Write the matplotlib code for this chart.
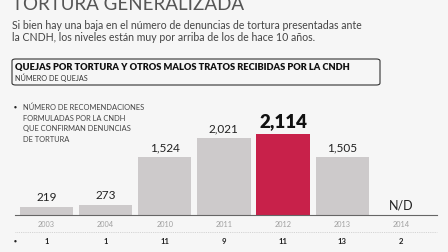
import matplotlib.pyplot as plt
import matplotlib.transforms as mtransforms
from matplotlib.patches import FancyBboxPatch
from matplotlib.lines import Line2D

# data
years = ['2003', '2004', '2010', '2011', '2012', '2013', '2014']
quejas = [219, 273, 1524, 2021, 2114, 1505, None]
recomendaciones = ['1', '1', '11', '9', '11', '13', '2']
highlight = '2012'

W, H = 448, 252
BG = '#f6f6f6'
GRAY = '#cdcacb'
RED = '#c8214a'

plt.rcParams['font.family'] = ['Lato', 'DejaVu Sans']

fig = plt.figure(figsize=(W / 100, H / 100), dpi=100, facecolor=BG)


def fx(x):
    return x / W


def fy(y):
    return 1 - y / H


# header texts
fig.text(fx(12), fy(10), 'TORTURA GENERALIZADA', fontsize=13.5, color='#555555',
         va='baseline', ha='left')
fig.text(fx(12), fy(29), 'Si bien hay una baja en el número de denuncias de tortura presentadas ante',
         fontsize=7.6, color='#444444', va='baseline')
fig.text(fx(12), fy(41), 'la CNDH, los niveles están muy por arriba de los de hace 10 años.',
         fontsize=7.6, color='#444444', va='baseline')

box = FancyBboxPatch((fx(12), fy(85)), fx(368), (85 - 59) / H,
                     boxstyle='round,pad=0,rounding_size=0.008',
                     transform=fig.transFigure, facecolor='none',
                     edgecolor='#333333', linewidth=0.8)
fig.add_artist(box)
fig.text(fx(15), fy(70), 'QUEJAS POR TORTURA Y OTROS MALOS TRATOS RECIBIDAS POR LA CNDH',
         fontsize=6.7, fontweight='heavy', color='#111111', va='baseline')
fig.text(fx(15), fy(81), 'NÚMERO DE QUEJAS', fontsize=5.2, color='#333333', va='baseline')

# legend note
fig.text(fx(14), fy(107.5), '●', fontsize=3.5, color='#222222', va='center')
legend_lines = ['NÚMERO DE RECOMENDACIONES', 'FORMULADAS POR LA CNDH',
                'QUE CONFIRMAN DENUNCIAS', 'DE TORTURA']
for i, line in enumerate(legend_lines):
    fig.text(fx(23), fy(110 + i * 10.6), line, fontsize=5.4, color='#444444', va='baseline')

# bars
ax = fig.add_axes([fx(15), fy(215), fx(437) - fx(15), (215 - 100) / H])
ax.set_facecolor('none')
xs = list(range(len(years)))
vals = [v if v is not None else 0 for v in quejas]
colors = [RED if y == highlight else GRAY for y in years]
ax.bar(xs, vals, width=0.9, color=colors, zorder=2)
ax.set_xlim(-0.53, 6.6)
ax.set_ylim(0, 3000)

for x, v in zip(xs, quejas):
    if v is None:
        ax.text(x, 80, 'N/D', ha='center', va='bottom', fontsize=9, color='#222222')
    elif years[x] == highlight:
        ax.text(x, v + 90, f'{v:,}', ha='center', va='bottom', fontsize=13.5,
                fontweight='heavy', color='#111111')
    else:
        ax.text(x, v + 90, f'{v:,}', ha='center', va='bottom', fontsize=8.5, color='#222222')

for s in ['top', 'right', 'left']:
    ax.spines[s].set_visible(False)
ax.spines['bottom'].set_color('#666666')
ax.spines['bottom'].set_linewidth(0.8)
ax.set_yticks([])
ax.set_xticks(xs)
ax.set_xticklabels(years, fontsize=5.3, color='#a0a0a0')
ax.tick_params(axis='x', length=0, pad=4)

# dotted separator and recomendaciones row
fig.add_artist(Line2D([fx(15), fx(437)], [fy(232), fy(232)], transform=fig.transFigure,
                      color='#c8c8c8', linewidth=0.6, linestyle=(0, (1, 1.2))))
trans = mtransforms.blended_transform_factory(ax.transData, fig.transFigure)
fig.text(fx(14), fy(241.5), '●', fontsize=3.5, color='#222222', va='center')
for x, r in zip(xs, recomendaciones):
    ax.text(x, fy(241.5), r, transform=trans, ha='center', va='center', fontsize=5.6,
            fontweight='bold', color='#222222')

fig.savefig('out.png', dpi=100, facecolor=BG)
